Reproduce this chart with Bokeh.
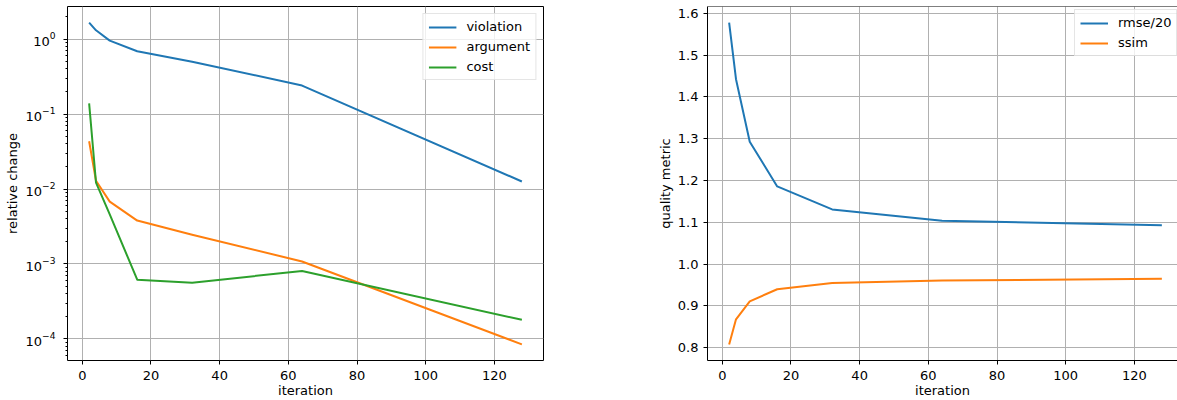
import math
from bokeh.plotting import figure
from bokeh.layouts import row
from bokeh.models import (Range1d, LogTicker, Legend, LegendItem, Span,
                          FixedTicker, PrintfTickFormatter)
from bokeh.embed import file_html
from bokeh.resources import INLINE

# ---- data ----
iterations = [2, 4, 8, 16, 32, 64, 128]
violation = [1.66, 1.31, 0.955, 0.688, 0.50, 0.24, 0.0126]
argument = [0.0434, 0.0129, 0.00679, 0.00379, 0.00246, 0.00108, 8.45e-5]
cost = [0.139, 0.0122, 0.0046, 6.17e-4, 5.63e-4, 8.06e-4, 1.80e-4]
rmse_20 = [1.578, 1.4425, 1.293, 1.186, 1.131, 1.104, 1.093]
ssim = [0.808, 0.868, 0.911, 0.940, 0.955, 0.961, 0.965]

left_labels = ["violation", "argument", "cost"]
right_labels = ["rmse/20", "ssim"]
x_ticks = [0, 20, 40, 60, 80, 100, 120]
q_ticks = [0.8, 0.9, 1.0, 1.1, 1.2, 1.3, 1.4, 1.5, 1.6]

BLUE, ORANGE, GREEN = "#1f77b4", "#ff7f0e", "#2ca02c"
FONT = "DejaVu Sans"
FS = "13px"

# layout sizes
H = 400
TOP = 6
P1_W, P1_LEFT, P1_RIGHT = 647, 67, 104
P2_W, P2_LEFT = 530, 60

# x range like matplotlib (5% margins)
xspan = max(iterations) - min(iterations)
x0 = min(iterations) - 0.05 * xspan
x1 = max(iterations) + 0.05 * xspan
frame1_w = P1_W - P1_LEFT - P1_RIGHT
px_per_unit = frame1_w / (x1 - x0)
frame2_w = P2_W - P2_LEFT
x1_right = x0 + frame2_w / px_per_unit

# log y range for left
alllog = [math.log10(v) for v in violation + argument + cost]
lmin, lmax = min(alllog), max(alllog)
lm = 0.05 * (lmax - lmin)
ly0, ly1 = 10 ** (lmin - lm), 10 ** (lmax + lm)

# linear y range for right
allq = rmse_20 + ssim
qm = 0.05 * (max(allq) - min(allq))
qy0, qy1 = min(allq) - qm, max(allq) + qm


def style_axes(p):
    p.background_fill_color = "white"
    p.border_fill_color = "white"
    for ax in list(p.xaxis) + list(p.yaxis):
        ax.axis_label_text_font = FONT
        ax.axis_label_text_font_size = FS
        ax.axis_label_text_font_style = "normal"
        ax.axis_label_text_color = "black"
        ax.major_label_text_font = FONT
        ax.major_label_text_font_size = FS
        ax.major_label_text_color = "black"
        ax.major_tick_line_color = "black"
        ax.major_tick_out = 4
        ax.major_tick_in = 0
        ax.minor_tick_line_color = "black"
        ax.minor_tick_out = 2
        ax.minor_tick_in = 0
    for ax in p.xaxis:
        ax.major_label_standoff = 6
        ax.axis_label_standoff = 0
    p.xgrid.grid_line_color = "#b0b0b0"
    p.ygrid.grid_line_color = "#b0b0b0"
    p.xgrid.grid_line_width = 1
    p.ygrid.grid_line_width = 1


def make_legend(items, location, margin):
    lg = Legend(items=items, location=location)
    lg.label_text_font = FONT
    lg.label_text_font_size = FS
    lg.label_text_color = "black"
    lg.glyph_width = 28
    lg.glyph_height = 14
    lg.label_height = 14
    lg.spacing = 5
    lg.padding = 5
    lg.margin = margin
    lg.label_standoff = 10
    lg.border_line_color = "#cccccc"
    lg.border_line_width = 1
    lg.background_fill_color = "white"
    lg.background_fill_alpha = 0.8
    return lg


# ---- left figure ----
p1 = figure(width=P1_W, height=H, y_axis_type="log",
            x_range=Range1d(x0, x1), y_range=Range1d(ly0, ly1),
            output_backend="svg", toolbar_location=None,
            min_border_left=P1_LEFT, min_border_right=P1_RIGHT,
            min_border_top=TOP, min_border_bottom=0)
p1.xaxis.ticker = FixedTicker(ticks=x_ticks)
p1.yaxis.ticker = LogTicker(mantissas=[1], num_minor_ticks=10)
p1.xaxis.axis_label = "iteration"
p1.yaxis.axis_label = "relative change"
style_axes(p1)
p1.yaxis.major_label_standoff = 8
p1.yaxis.axis_label_standoff = 3
p1.xaxis.minor_tick_line_color = None
p1.axis.axis_line_color = None
p1.outline_line_color = "black"
p1.outline_line_width = 1
p1.outline_line_alpha = 1

r_v = p1.line(iterations, violation, line_color=BLUE, line_width=2, line_join="round")
r_a = p1.line(iterations, argument, line_color=ORANGE, line_width=2, line_join="round")
r_c = p1.line(iterations, cost, line_color=GREEN, line_width=2, line_join="round")
p1.add_layout(make_legend([LegendItem(label=l, renderers=[r]) for l, r in
                           zip(left_labels, [r_v, r_a, r_c])], "top_right", 7))

# ---- right figure ----
p2 = figure(width=P2_W, height=H,
            x_range=Range1d(x0, x1_right), y_range=Range1d(qy0, qy1),
            output_backend="svg", toolbar_location=None,
            min_border_left=P2_LEFT, min_border_right=0,
            min_border_top=TOP, min_border_bottom=0)
p2.xaxis.ticker = FixedTicker(ticks=x_ticks)
p2.yaxis.ticker = FixedTicker(ticks=q_ticks)
p2.yaxis.formatter = PrintfTickFormatter(format="%.1f")
p2.xaxis.axis_label = "iteration"
p2.yaxis.axis_label = "quality metric"
style_axes(p2)
p2.yaxis.major_label_standoff = 5
p2.yaxis.axis_label_standoff = 2
p2.axis.minor_tick_line_color = None
p2.axis.axis_line_color = "black"
p2.axis.axis_line_width = 1
p2.outline_line_color = None
p2.add_layout(Span(location=qy1, dimension="width", line_color="black", line_width=1))

r_r = p2.line(iterations, rmse_20, line_color=BLUE, line_width=2, line_join="round")
r_s = p2.line(iterations, ssim, line_color=ORANGE, line_width=2, line_join="round")
p2.add_layout(make_legend([LegendItem(label=l, renderers=[r]) for l, r in
                           zip(right_labels, [r_r, r_s])], (367, 304), 0))

layout = row(p1, p2)
open("out.html", "w").write(file_html(layout, INLINE))
